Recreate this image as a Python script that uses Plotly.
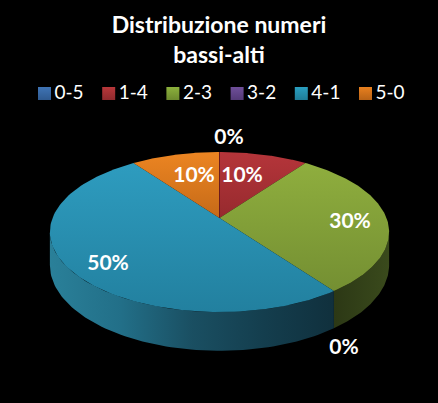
import numpy as np
import plotly.graph_objects as go

categories = ["0-5", "1-4", "2-3", "3-2", "4-1", "5-0"]
shares = [0, 10, 30, 0, 50, 10]
swatch_colors = ["#3f74b5", "#b8373a", "#8cb13c", "#6f4f9a", "#2a9fc0", "#e8801f"]
swatch_shades = ["#2f5a90", "#8f2a2d", "#6d8a2e", "#543a78", "#1f7d98", "#b96316"]
top_colors = [
    ("#3f74b5", "#34619a"),
    ("#b5353a", "#962a2e"),
    ("#8fae3e", "#748f32"),
    ("#6f4f9a", "#5b4080"),
    ("#2e9cbf", "#22809f"),
    ("#ec8522", "#c56a18"),
]
wall_colors = [
    ["#2c5080", "#1a3050"],
    ["#701f22", "#501518"],
    ["#2c3815", "#3a4a1c"],
    ["#3f2c5a", "#2f2044"],
    ["#2a8099", "#226f88", "#1a4f62", "#143e4e", "#10303d"],
    ["#a05510", "#804408"],
]
title_lines = ["Distribuzione numeri", "bassi-alti"]
label_spots = [(229, 139), (242, 177), (350, 223), (344, 349), (108, 265), (194, 177)]

CX, CY, RX, RY, PERSP, DEPTH = 219.5, 218.0, 167.0, 77.55, 0.175, 32.0
KEY_X0, KEY_STEP, KEY_Y, KEY_GAP = 44.5, 64.2, 93.5, 10.0


def project(theta_deg, drop=0.0):
    t = np.radians(theta_deg)
    u, v = np.sin(t), np.cos(t)
    w = 1 + PERSP * v
    return CX + RX * u / w, CY - RY * v / w + drop * DEPTH / w


def scale(cols):
    n = len(cols)
    return [[i / (n - 1), c] for i, c in enumerate(cols)]


fig = go.Figure()
edges = np.concatenate([[0], np.cumsum(shares)]) * 3.6

# side wall, visible part of the rim only
for i, cat in enumerate(categories):
    a, b = max(edges[i], 100.0), min(edges[i + 1], 260.0)
    if b <= a:
        continue
    th = np.linspace(a, b, 80)
    x1, y1 = project(th)
    x2, y2 = project(th[::-1], 1.0)
    fig.add_trace(go.Scatter(
        x=np.r_[x1, x2, x1[0]], y=np.r_[y1, y2, y1[0]], mode="lines",
        line=dict(width=0), fill="toself",
        fillgradient=dict(type="horizontal", colorscale=scale(wall_colors[i])),
        hoverinfo="skip", showlegend=False))

# top faces
for i, cat in enumerate(categories):
    a, b = edges[i], edges[i + 1]
    if b <= a:
        continue
    th = np.linspace(a, b, 120)
    x, y = project(th)
    fig.add_trace(go.Scatter(
        x=np.r_[CX, x, CX], y=np.r_[CY, y, CY], mode="lines",
        line=dict(width=0), fill="toself",
        fillgradient=dict(type="vertical", colorscale=[[0, top_colors[i][1]], [1, top_colors[i][0]]]),
        hoverinfo="skip", showlegend=False))

# dark seam at the top
xs, ys = project(np.array([0.0]))
fig.add_trace(go.Scatter(x=[CX, xs[0]], y=[CY, ys[0]], mode="lines",
                         line=dict(color="#6e1a1c", width=1), hoverinfo="skip", showlegend=False))

# key row
for i, (cat, col, shade) in enumerate(zip(categories, swatch_colors, swatch_shades)):
    kx = KEY_X0 + KEY_STEP * i
    fig.add_trace(go.Scatter(
        x=[kx], y=[KEY_Y], mode="markers", name=cat,
        marker=dict(symbol="square", size=13, color=col,
                    gradient=dict(type="vertical", color=shade)),
        hoverinfo="skip", showlegend=False))
    fig.add_trace(go.Scatter(
        x=[kx + KEY_GAP], y=[KEY_Y + 1], mode="text", name=cat,
        text=[cat], textposition="middle right",
        textfont=dict(family="Lato", size=19, color="white"),
        hoverinfo="skip", showlegend=False))

# data labels
fig.add_trace(go.Scatter(
    x=[p[0] for p in label_spots], y=[p[1] for p in label_spots], mode="text",
    text=[f"{s}%" for s in shares],
    textfont=dict(family="Lato", size=21, color="white", weight="bold"),
    hoverinfo="skip", showlegend=False))

fig.update_layout(
    width=438, height=403, margin=dict(l=0, r=0, t=0, b=0),
    paper_bgcolor="black", plot_bgcolor="black", showlegend=False,
    xaxis=dict(range=[0, 438], visible=False, fixedrange=True),
    yaxis=dict(range=[403, 0], visible=False, fixedrange=True),
    title=dict(text="<br>".join(title_lines), x=0.5, xanchor="center", y=0.918, yanchor="top",
               font=dict(family="Lato", size=23, color="white", weight="bold")),
)
fig.write_html("out.html", config={"displayModeBar": False},
               post_script="document.body.style.margin='0';document.body.style.background='black';")
